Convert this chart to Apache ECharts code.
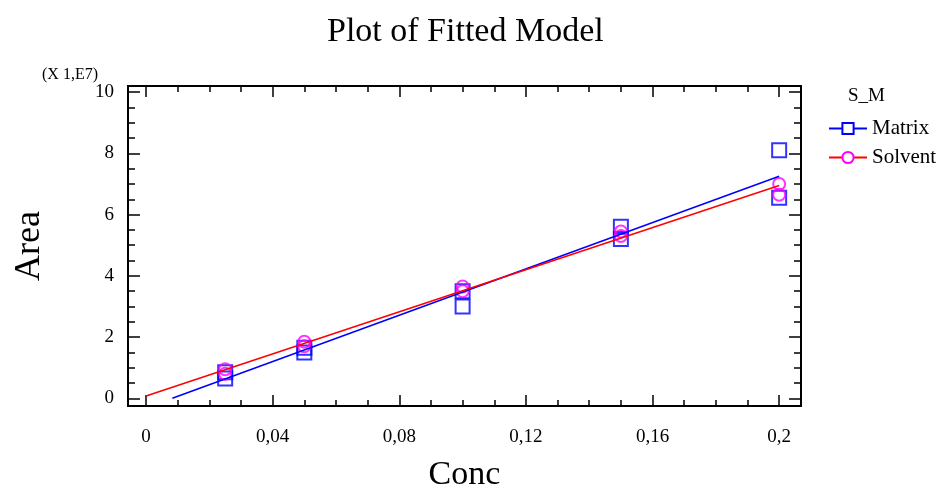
<!DOCTYPE html>
<html>
<head>
<meta charset="utf-8">
<script src="https://cdn.jsdelivr.net/npm/echarts@6/dist/echarts.min.js"></script>
<style>
  html, body { margin: 0; padding: 0; background: #fff; }
  #chart { width: 949px; height: 489px; }
</style>
</head>
<body>
<div id="chart"></div>
<script>
// Calibration data: concentration vs. peak area (area in units of 1E7)
const conc        = [0.025, 0.025, 0.05, 0.05, 0.1, 0.1, 0.15, 0.15, 0.2, 0.2];
const matrixArea  = [0.85, 0.65, 1.65, 1.5, 3.5, 3.0, 5.6, 5.2, 8.1, 6.55];
const solventArea = [0.95, 0.8, 1.85, 1.7, 3.65, 3.5, 5.45, 5.3, 7.0, 6.65];

const seriesNames = ['Matrix', 'Solvent'];
const xMajorTicks = [0, 0.04, 0.08, 0.12, 0.16, 0.2];
const yMajorTicks = [0, 2, 4, 6, 8, 10];
const xMinorTicks = [];
for (let i = 1; i <= 20; i++) if (i % 4 !== 0) xMinorTicks.push(+(i * 0.01).toFixed(2));
const yMinorTicks = [];
for (let i = 1; i <= 20; i++) if (i % 4 !== 0) yMinorTicks.push(i * 0.5);

const X_MIN = -0.0057, X_MAX = 0.2069;
const Y_MIN = -0.25, Y_MAX = 10.2;
const FIT_RANGE = [0, 0.2];

// ordinary least squares fit
function fit(xs, ys) {
  const n = xs.length;
  const mx = xs.reduce((a, b) => a + b, 0) / n;
  const my = ys.reduce((a, b) => a + b, 0) / n;
  let sxy = 0, sxx = 0;
  for (let i = 0; i < n; i++) { sxy += (xs[i] - mx) * (ys[i] - my); sxx += (xs[i] - mx) ** 2; }
  const slope = sxy / sxx;
  return { slope, intercept: my - slope * mx };
}
// fitted line over the concentration range, clipped at Area = 0
function fitLine(xs, ys) {
  const f = fit(xs, ys);
  let x0 = FIT_RANGE[0];
  if (f.intercept + f.slope * x0 < 0) x0 = -f.intercept / f.slope;
  const x1 = FIT_RANGE[1];
  return [[x0, f.intercept + f.slope * x0], [x1, f.intercept + f.slope * x1]];
}
const pairs = (xs, ys) => xs.map((x, i) => [x, ys[i]]);

const FONT = '"Liberation Serif", "DejaVu Serif", serif';
const fmtX = v => (v === 0 ? '0' : String(+v.toFixed(2)).replace('.', ','));

function xAxis(position, ticks, len, labels) {
  return {
    type: 'value', gridIndex: 0, position, min: X_MIN, max: X_MAX,
    name: labels ? 'Conc' : '', nameLocation: 'middle', nameGap: 52,
    nameTextStyle: { fontFamily: FONT, fontSize: 34, color: '#000' },
    axisLine: { show: true, onZero: false, lineStyle: { color: '#000', width: 2 } },
    axisTick: { show: true, inside: true, length: len, customValues: ticks, lineStyle: { color: '#000', width: 1.5 } },
    axisLabel: { show: labels, customValues: xMajorTicks, formatter: fmtX, margin: 22,
      fontFamily: FONT, fontSize: 19, color: '#000' },
    splitLine: { show: false }
  };
}
function yAxis(position, ticks, len, labels) {
  return {
    type: 'value', gridIndex: 0, position, min: Y_MIN, max: Y_MAX,
    name: labels ? 'Area' : '', nameLocation: 'middle', nameGap: 80, nameRotate: 90,
    nameTextStyle: { fontFamily: FONT, fontSize: 36, color: '#000' },
    axisLine: { show: true, onZero: false, lineStyle: { color: '#000', width: 2 } },
    axisTick: { show: true, inside: true, length: len, customValues: ticks, lineStyle: { color: '#000', width: 1.5 } },
    axisLabel: { show: labels, customValues: yMajorTicks, margin: 14,
      fontFamily: FONT, fontSize: 19, color: '#000' },
    splitLine: { show: false }
  };
}

const chart = echarts.init(document.getElementById('chart'), null, { renderer: 'canvas' });
chart.setOption({
  animation: false,
  backgroundColor: '#fff',
  title: [
    { text: 'Plot of Fitted Model', left: 322, top: 10,
      textStyle: { fontFamily: FONT, fontSize: 34, fontWeight: 'normal', color: '#000' } },
    { text: '(X 1,E7)', left: 37, top: 62,
      textStyle: { fontFamily: FONT, fontSize: 16, fontWeight: 'normal', color: '#000' } },
    { text: 'S_M', left: 843, top: 82,
      textStyle: { fontFamily: FONT, fontSize: 19, fontWeight: 'normal', color: '#000' } }
  ],
  legend: {
    data: seriesNames, orient: 'vertical', left: 823, top: 113,
    itemWidth: 38, itemHeight: 14, itemGap: 8,
    textStyle: { fontFamily: FONT, fontSize: 21, color: '#000' }
  },
  grid: { left: 128, right: 148, top: 86, bottom: 83, containLabel: false, outerBoundsMode: 'none' },
  xAxis: [
    xAxis('bottom', xMajorTicks, 11, true),
    xAxis('bottom', xMinorTicks, 6, false),
    xAxis('top', xMajorTicks, 11, false),
    xAxis('top', xMinorTicks, 6, false)
  ],
  yAxis: [
    yAxis('left', yMajorTicks, 12, true),
    yAxis('left', yMinorTicks, 7, false),
    yAxis('right', yMajorTicks, 12, false),
    yAxis('right', yMinorTicks, 7, false)
  ],
  series: [
    { name: 'Matrix', type: 'line', data: fitLine(conc, matrixArea),
      symbol: 'emptyRect', symbolSize: 12, showSymbol: false, z: 4,
      lineStyle: { color: '#0000ff', width: 1.6 }, itemStyle: { color: '#0000ff', borderWidth: 1.6 } },
    { name: 'Solvent', type: 'line', data: fitLine(conc, solventArea),
      symbol: 'emptyCircle', symbolSize: 12, showSymbol: false, z: 4,
      lineStyle: { color: '#ff0000', width: 1.6 }, itemStyle: { color: '#ff00ff', borderWidth: 1.6 } },
    { name: 'Matrix', type: 'scatter', data: pairs(conc, matrixArea),
      symbol: 'rect', symbolSize: 14, z: 3,
      itemStyle: { color: 'rgba(0,0,0,0)', borderColor: '#0000ff', borderWidth: 2 } },
    { name: 'Solvent', type: 'scatter', data: pairs(conc, solventArea),
      symbol: 'circle', symbolSize: 12, z: 3,
      itemStyle: { color: 'rgba(0,0,0,0)', borderColor: '#ff00ff', borderWidth: 2 } }
  ]
});
</script>
</body>
</html>
